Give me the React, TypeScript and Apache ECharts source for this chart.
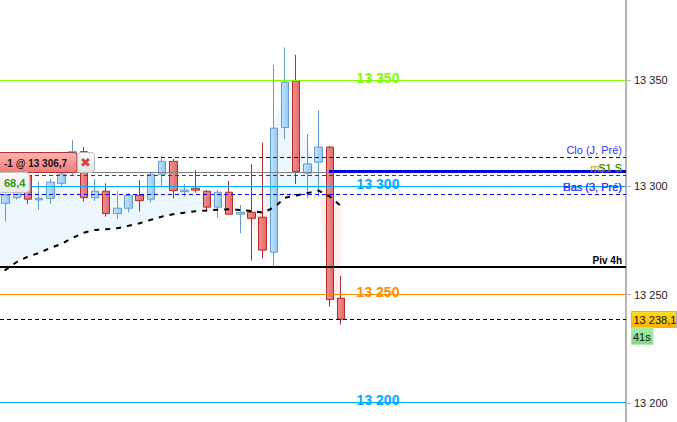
import React, { useEffect, useRef } from "react";
import * as echarts from "echarts";

const WIDTH = 677;
const HEIGHT = 422;
const FONT = '"Liberation Sans", Arial, sans-serif';
const SLOTS = Array.from({ length: 56 }, (_, i) => String(i));
const SLOT_WIDTH = 626 / 56;

// [open, close, low, high]
const candles: number[][] = [
  [13292.8, 13296.7, 13284.3, 13297.5],
  [13295.4, 13298.1, 13294.5, 13299],
  [13305.5, 13294.7, 13292.5, 13307],
  [13294.4, 13295.1, 13289.7, 13302.9],
  [13295.1, 13302.6, 13292.5, 13304.1],
  [13302.1, 13306.4, 13300.5, 13308],
  [13307.4, 13316.8, 13306, 13322.2],
  [13316.8, 13295.4, 13293.6, 13319],
  [13295.4, 13298.4, 13293.9, 13304],
  [13298.4, 13288, 13286.6, 13302.1],
  [13288, 13290.5, 13285.4, 13298.5],
  [13290.5, 13296.5, 13288.4, 13297.5],
  [13296.5, 13294, 13288.9, 13303.6],
  [13294.7, 13306.3, 13293.1, 13307.4],
  [13306.3, 13312.3, 13300.9, 13314.5],
  [13312.3, 13298.7, 13295.1, 13313.4],
  [13298.2, 13298.9, 13295.9, 13301.8],
  [13299.8, 13298.9, 13297.7, 13308.3],
  [13298.4, 13291, 13288.9, 13298.9],
  [13291, 13297.9, 13286.1, 13299],
  [13297.9, 13287.7, 13287.7, 13303.2],
  [13287.7, 13288.6, 13278.9, 13292],
  [13288.6, 13285.8, 13266.1, 13311.1],
  [13286.3, 13271, 13267.1, 13320.9],
  [13270, 13327.7, 13262.6, 13357.1],
  [13328, 13349.1, 13322.6, 13365.3],
  [13349.7, 13307.5, 13301.7, 13361.8],
  [13306.8, 13311.1, 13295.1, 13325],
  [13311.9, 13318.9, 13295.9, 13336.2],
  [13318.9, 13248, 13244.7, 13319.5],
  [13248.7, 13238.9, 13236.4, 13259],
];

// both averages begin one slot before the first visible candle
const slowAverage = [
  13259.5, 13261.8, 13265.5, 13268, 13269.7, 13272, 13273.9, 13276.7, 13279.1, 13280.4, 13280.7, 13281.2,
  13282.3, 13283.5, 13285.1, 13286.6, 13287.7, 13288.4, 13289.1, 13289.4, 13289.8, 13290, 13289.7,
  13289.2, 13288.4, 13290.8, 13295.4, 13296.4, 13297.5, 13298.7, 13295.9, 13291.6,
];

const fastAverage = [
  13294, 13295.3, 13296.7, 13299, 13298.1, 13299.9, 13302.7, 13307.4, 13304.6, 13301.3, 13298.1, 13294.4,
  13294.4, 13295.3, 13301.3, 13305.5, 13302.7, 13299.9, 13298.1, 13295.3, 13294.4, 13292.5, 13290.6,
  13282.7, 13275.8, 13330.1, 13343.2, 13338.5, 13319.9, 13309.2, 13252.5, 13241,
];

const tickValues = [13350, 13300.8, 13250.3, 13200];

// [start, end, price]
const levels: number[][] = [
  [0, 626, 13350],
  [0, 626, 13300.7],
  [0, 626, 13250.5],
  [0, 626, 13200],
  [0, 626, 13263.2],
  [0, 626, 13314.2],
  [0, 626, 13305.8],
  [0, 329, 13307.2],
  [329, 626, 13307.5],
  [0, 626, 13297],
  [0, 626, 13238.9],
];
const levelStyles = [
  { stroke: "#7fff00", lineWidth: 1 },
  { stroke: "#00aaff", lineWidth: 1 },
  { stroke: "#ff8c00", lineWidth: 1 },
  { stroke: "#00aaff", lineWidth: 1 },
  { stroke: "#000000", lineWidth: 2 },
  { stroke: "#0000e0", lineWidth: 1, lineDash: [4, 3] },
  { stroke: "#007000", lineWidth: 1, lineDash: [4, 3] },
  { stroke: "#808080", lineWidth: 1 },
  { stroke: "#0000e0", lineWidth: 3 },
  { stroke: "#0000e0", lineWidth: 1, lineDash: [4, 3] },
  { stroke: "#000000", lineWidth: 1, lineDash: [4, 3] },
];

const bigLabels = ["13 350", "13 300", "13 250", "13 200"];
const bigLabelPrices = [13351, 13301.7, 13251.5, 13201.5];
const bigLabelColors = ["#7fff00", "#00aaff", "#ff8c00", "#00aaff"];

const sideLabels = ["Clo (J, Pré)", "m$1 S", "S1 S", "Has (3, Pré)", "Bas (3, Pré)", "Piv 4h"];
const sidePrices = [13317.5, 13309, 13309, 13300.2, 13300.2, 13266.2];
const sideColors = ["#3333ff", "#c0a000", "#228b22", "#3333ff", "#3333ff", "#000000"];
const sideBold = [false, false, false, false, false, true];
const sideSize = [11, 11, 11, 11, 11, 10];

const hGrad = (a: string, b: string) => new echarts.graphic.LinearGradient(0, 0, 1, 0, [
  { offset: 0, color: a },
  { offset: 1, color: b },
]);
const vGrad = (a: string, b: string) => new echarts.graphic.LinearGradient(0, 0, 0, 1, [
  { offset: 0, color: a },
  { offset: 1, color: b },
]);

function renderLevel(params: any, api: any) {
  const i = params.dataIndex;
  const s = levelStyles[i];
  const a = api.coord([api.value(0), api.value(2)]);
  const b = api.coord([api.value(1), api.value(2)]);
  const y = s.lineWidth % 2 === 1 ? Math.floor(a[1]) + 0.5 : Math.round(a[1]);
  return {
    type: "line",
    shape: { x1: a[0], y1: y, x2: b[0], y2: y },
    style: { stroke: s.stroke, lineWidth: s.lineWidth, lineDash: s.lineDash, fill: null },
  };
}

export default function App() {
  const ref = useRef<HTMLDivElement>(null);
  useEffect(() => {
    const chart = echarts.init(ref.current!, undefined, { renderer: "svg", width: WIDTH, height: HEIGHT });
    // slot index of each average point on the plain x axis (index -1 is off the left edge)
    const xOf = (i: number) => (i - 1 + 0.5) * SLOT_WIDTH;
    const slowPoints = slowAverage.map((v, i) => [xOf(i), v]);
    const bandSeries = (edge: number[], color: string) => ({
      type: "custom",
      xAxisIndex: 1,
      z: 1,
      silent: true,
      clip: true,
      encode: { x: 0, y: 1 },
      renderItem: (params: any, api: any) => {
        if (params.dataIndex !== 0) return null;
        const forward = edge.map((v, i) => api.coord([xOf(i), v]));
        const back = slowPoints.map((p) => api.coord(p)).reverse();
        return { type: "polygon", shape: { points: forward.concat(back) }, style: { fill: color } };
      },
      data: slowPoints,
    });
    const blueEdge = fastAverage.map((v, i) => Math.max(v, slowAverage[i]));
    const pinkEdge = fastAverage.map((v, i) => Math.min(v, slowAverage[i]));
    chart.setOption({
      animation: false,
      backgroundColor: "#ffffff",
      grid: { left: 0, right: 51, top: 0, bottom: 0, containLabel: false },
      xAxis: [
        { type: "category", data: SLOTS, show: false, boundaryGap: true },
        { type: "value", min: 0, max: 626, show: false },
      ],
      yAxis: {
        type: "value",
        position: "right",
        min: 13191.1,
        max: 13387.3,
        splitLine: { show: false },
        axisLine: { show: true, onZero: false, lineStyle: { color: "#b4b4b4", width: 2 } },
        axisTick: { show: true, length: 5, lineStyle: { color: "#b4b4b4" }, customValues: tickValues },
        axisLabel: {
          show: true,
          customValues: tickValues,
          margin: 8,
          color: "#1c1c28",
          fontFamily: FONT,
          fontSize: 11,
          formatter: (v: number) => {
            const r = String(Math.round(v / 50) * 50);
            return r.slice(0, 2) + " " + r.slice(2);
          },
        },
      },
      series: [
        bandSeries(blueEdge, "#eef6fe"),
        bandSeries(pinkEdge, "#ffeeee"),
        {
          type: "candlestick",
          z: 3,
          barWidth: 8,
          silent: true,
          itemStyle: {
            color: hGrad("#c4e3fb", "#8fcaf6"),
            color0: hGrad("#f29090", "#e66a6a"),
            borderColor: "#6699cc",
            borderColor0: "#ae2c2c",
            borderWidth: 1,
          },
          data: candles,
        },
        {
          type: "custom",
          xAxisIndex: 1,
          z: 4,
          silent: true,
          encode: { x: [0, 1], y: 2 },
          renderItem: renderLevel,
          data: levels,
        },
        {
          type: "line",
          xAxisIndex: 1,
          z: 5,
          silent: true,
          showSymbol: false,
          lineStyle: { color: "#000000", width: 2, type: [5, 6] },
          data: slowPoints,
        },
        {
          type: "custom",
          xAxisIndex: 1,
          z: 6,
          silent: true,
          encode: { x: 0, y: 1 },
          renderItem: (params: any, api: any) => {
            const p = api.coord([api.value(0), api.value(1)]);
            return {
              type: "text",
              x: p[0],
              y: p[1],
              style: {
                text: bigLabels[params.dataIndex],
                fill: bigLabelColors[params.dataIndex],
                font: `bold 14px ${FONT}`,
                align: "center",
                verticalAlign: "middle",
              },
            };
          },
          data: bigLabelPrices.map((v) => [378, v]),
        },
        {
          type: "custom",
          xAxisIndex: 1,
          z: 6,
          silent: true,
          encode: { x: 0, y: 1 },
          renderItem: (params: any, api: any) => {
            const p = api.coord([api.value(0), api.value(1)]);
            const i = params.dataIndex;
            return {
              type: "text",
              x: p[0],
              y: p[1],
              style: {
                text: sideLabels[i],
                fill: sideColors[i],
                font: `${sideBold[i] ? "bold " : ""}${sideSize[i]}px ${FONT}`,
                align: "right",
                verticalAlign: "middle",
              },
            };
          },
          data: sidePrices.map((v) => [622, v]),
        },
      ],
      graphic: [
        {
          type: "rect",
          z: 20,
          shape: { x: -4, y: 152.5, width: 81, height: 20, r: 3 },
          style: { fill: vGrad("#fbb4b0", "#f27c78"), stroke: "#b03434", lineWidth: 1 },
        },
        {
          type: "text",
          z: 21,
          x: 4,
          y: 163,
          style: { text: "-1 @ 13 306,7", fill: "#1a1010", font: `bold 10px ${FONT}`, verticalAlign: "middle" },
        },
        {
          type: "rect",
          z: 20,
          shape: { x: 77.5, y: 152.5, width: 17, height: 20, r: 3 },
          style: { fill: vGrad("#fafafa", "#e2e2e2"), stroke: "#b4bcbc", lineWidth: 1 },
        },
        {
          type: "text",
          z: 21,
          x: 85.5,
          y: 162.5,
          style: { text: "✖", fill: "#d84040", font: `bold 13px "DejaVu Sans", sans-serif`, align: "center", verticalAlign: "middle" },
        },
        {
          type: "rect",
          z: 20,
          shape: { x: -4, y: 172.5, width: 33.5, height: 20, r: 3 },
          style: { fill: vGrad("#fbfbfb", "#e8e8e8"), stroke: "#c4c4c4", lineWidth: 1 },
        },
        {
          type: "text",
          z: 21,
          x: 4,
          y: 183,
          style: { text: "68,4", fill: "#2a9a10", font: `bold 11px ${FONT}`, verticalAlign: "middle" },
        },
        {
          type: "rect",
          z: 20,
          shape: { x: 631.5, y: 311.5, width: 45, height: 16 },
          style: { fill: vGrad("#ffdc20", "#fdb400"), stroke: "#b4b4b4", lineWidth: 1 },
        },
        {
          type: "text",
          z: 21,
          x: 633.5,
          y: 320,
          style: { text: "13 238,1", fill: "#101010", font: `11px ${FONT}`, verticalAlign: "middle" },
        },
        {
          type: "rect",
          z: 20,
          shape: { x: 631.5, y: 327.5, width: 21.5, height: 17 },
          style: { fill: vGrad("#a8eca8", "#80dc80"), stroke: "#a8e8a8", lineWidth: 1 },
        },
        {
          type: "text",
          z: 21,
          x: 633,
          y: 337,
          style: { text: "41s", fill: "#101010", font: `11px ${FONT}`, verticalAlign: "middle" },
        },
      ],
    });
    return () => chart.dispose();
  }, []);
  return <div ref={ref} style={{ position: "absolute", left: 0, top: 0, width: WIDTH, height: HEIGHT }} />;
}
